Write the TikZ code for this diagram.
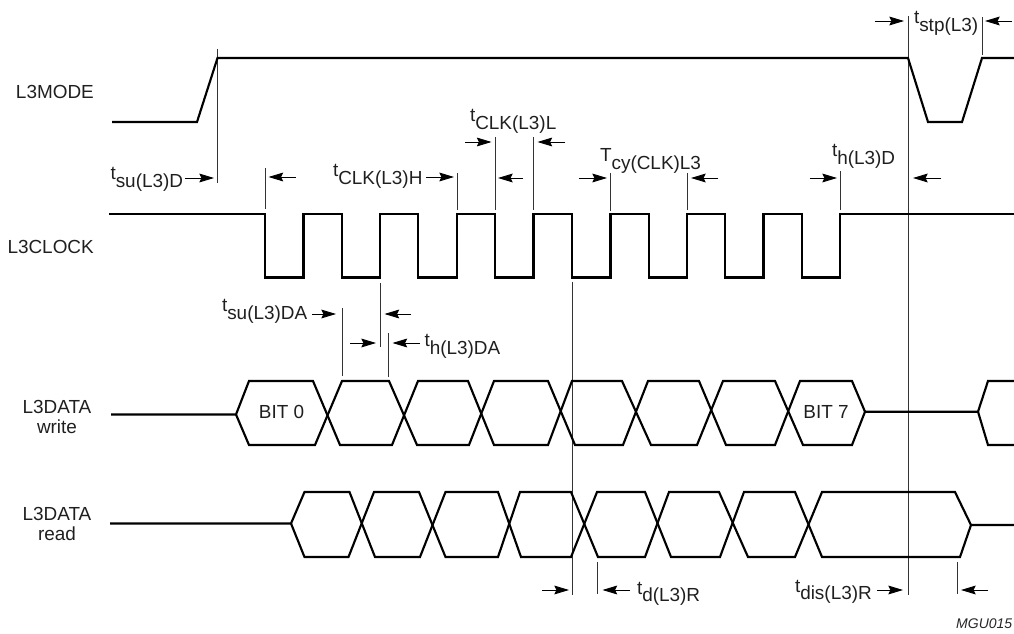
\documentclass[tikz,border=0pt]{standalone}
\usepackage{fontspec}
\setmainfont{Liberation Sans}
\usetikzlibrary{arrows.meta}
\newcommand{\tsub}[2]{#1\raisebox{-5.6pt}{#2}}
\tikzset{
  x=0.75pt,y=-0.75pt,
  signal/.style={line width=1.6pt,line join=miter,black},
  guide/.style={line width=0.65pt,black!80},
  dimarrow/.style={line width=0.65pt,-{Stealth[length=11pt,width=6.6pt,inset=1.6pt]}},
  label/.style={inner sep=0pt,outer sep=0pt,anchor=base west,font=\fontsize{14.2}{16}\selectfont,text=black!88},
  clabel/.style={label,anchor=base},
}
\begin{document}
\begin{tikzpicture}
\useasboundingbox (0,0) rectangle (1014,634);
% guides
\foreach \x/\a/\b in {217.5/49/183, 265/168/209, 457/173/210, 495/137/210, 533.5/137/210,
  610.5/173/211, 687/173/210, 840/171/210, 908.7/16/595, 982/17/55, 380/283/347,
  342/308/376, 388/333/377, 572/282/595, 597.5/562/594, 957/562/594}
  \draw[guide] (\x,\a) -- (\x,\b);
% L3MODE
\draw[signal] (112,122) -- (197,122) -- (217.5,58) -- (908,58) -- (928,122) -- (962,122) -- (982,58) -- (1014,58);
% L3CLOCK
\draw[signal] (109,214) -- (265,214) -- (265,277.5) -- (303.5,277.5) -- (303.5,214) -- (342,214) -- (342,277.5)
  -- (380,277.5) -- (380,214) -- (418,214) -- (418,277.5) -- (457,277.5) -- (457,214) -- (495,214) -- (495,277.5)
  -- (533.5,277.5) -- (533.5,214) -- (572,214) -- (572,277.5) -- (610.5,277.5) -- (610.5,214) -- (649,214) -- (649,277.5)
  -- (687,277.5) -- (687,214) -- (725,214) -- (725,277.5) -- (763.5,277.5) -- (763.5,214) -- (802,214) -- (802,277.5)
  -- (840,277.5) -- (840,214) -- (1014,214);
% L3DATA write
\draw[signal] (111,414.5) -- (236,414.5) -- (249,381) -- (313,381) -- (340,445) -- (392,445) -- (418,381) -- (468,381)
  -- (494,445) -- (548,445) -- (572,381) -- (622,381) -- (651,445) -- (697,445) -- (723,381) -- (775,381)
  -- (803,445) -- (852,445) -- (865,411.7) -- (978,411.7) -- (988,445) -- (1014,445);
\draw[signal] (236,414.5) -- (249,445) -- (315,445) -- (342,381) -- (389,381) -- (417,445) -- (469,445)
  -- (494,381) -- (548,381) -- (575,445) -- (623,445) -- (648,381) -- (699,381) -- (726,445) -- (775,445)
  -- (800,381) -- (852,381) -- (865,411.7);
\draw[signal] (978,411.7) -- (988,381) -- (1014,381);
% L3DATA read
\draw[signal] (110,523.5) -- (291,523.5) -- (304.5,492) -- (349.5,492) -- (375,557) -- (420,557) -- (445.5,492) -- (498,492)
  -- (521,557) -- (571,557) -- (597,492) -- (645,492) -- (671,557) -- (720,557) -- (744,492) -- (795,492)
  -- (822,557) -- (960,557) -- (971,525) -- (1014,525);
\draw[signal] (291,523.5) -- (304.5,557) -- (348.5,557) -- (374,492) -- (419,492) -- (445.5,557) -- (498,557)
  -- (520,492) -- (571,492) -- (598,557) -- (645,557) -- (669,492) -- (719,492) -- (748,557) -- (795,557)
  -- (822,492) -- (955,492) -- (971,525);
% arrows
\foreach \p/\q/\y in {185/214/178, 296/268.5/177, 426/454/177, 465/491.5/142, 523/498/178, 565/537.5/142,
  579/607/178, 718/691/178, 810/837/178, 941/913/178, 875/904/21, 1012/985/21, 312/336/314, 411/384.5/314,
  350/376/343, 420/392.5/343, 542/569/590, 630/602.5/590, 877/903/590, 988/961/590}
  \draw[dimarrow] (\p,\y) -- (\q,\y);
% signal names
\node[label] (mode) at (16,98.5) {L3MODE};
\node[label] (clock) at (7.5,254) {L3CLOCK};
\node[clabel] (dw1) at (57,414) {L3DATA};
\node[clabel] (dw2) at (57,434) {write};
\node[clabel] (dr1) at (57,520.7) {L3DATA};
\node[clabel] (dr2) at (57,540.7) {read};
\node[clabel] (bit0) at (281.5,419) {BIT 0};
\node[clabel] (bit7) at (826,419) {BIT 7};
% timing labels
\node[label] (tsud) at (110.5,180) {\tsub{t}{su(L3)D}};
\node[label] (tclkh) at (333,177) {\tsub{t}{CLK(L3)H}};
\node[label] (tclkl) at (470,122) {\tsub{t}{CLK(L3)L}};
\node[label] (tcy) at (600,162) {\tsub{T}{cy(CLK)L3}};
\node[label] (thd) at (832,157) {\tsub{t}{h(L3)D}};
\node[label] (tstp) at (914,24) {\tsub{t}{stp(L3)}};
\node[label] (tsuda) at (222,312) {\tsub{t}{su(L3)DA}};
\node[label] (thda) at (424.5,347) {\tsub{t}{h(L3)DA}};
\node[label] (tdr) at (637,594) {\tsub{t}{d(L3)R}};
\node[label] (tdis) at (795,592) {\tsub{t}{dis(L3)R}};
\node[inner sep=0pt,anchor=base east,font=\fontsize{10.5}{12}\selectfont\itshape,text=black!85] (ref) at (1012.5,628) {MGU015};
\end{tikzpicture}
\end{document}
